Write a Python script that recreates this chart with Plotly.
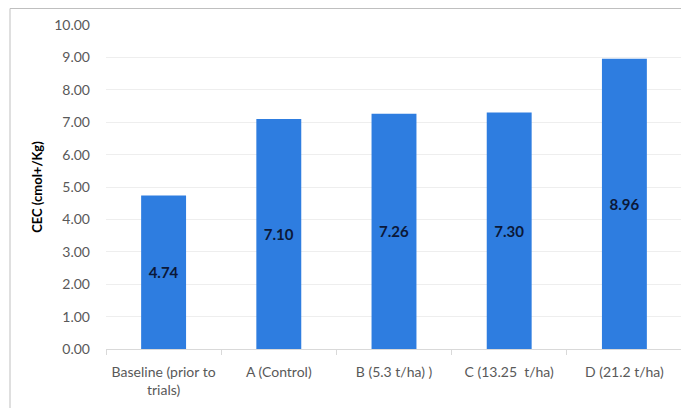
import plotly.graph_objects as go

categories = ["Baseline (prior to<br>trials)", "A (Control)", "B (5.3 t/ha) )", "C (13.25  t/ha)", "D (21.2 t/ha)"]
values = [4.74, 7.10, 7.26, 7.30, 8.96]
labels = ["4.74", "7.10", "7.26", "7.30", "8.96"]
y_ticks = [0, 1, 2, 3, 4, 5, 6, 7, 8, 9, 10]
y_title = "CEC (cmol+/Kg)"

W, H = 689, 408
ml, mr, mt, mb = 98, 15, 17, 67

font_family = "Lato, Roboto, Arial, sans-serif"

fig = go.Figure(go.Bar(
    x=categories, y=values, text=labels,
    textposition="inside", insidetextanchor="middle",
    textfont=dict(family=font_family, size=15, color="#0b1838", weight="bold"),
    marker=dict(color="#2E7DE0", line=dict(width=0)),
    width=0.39,
    cliponaxis=False,
))

fig.update_layout(
    width=W, height=H,
    margin=dict(l=ml, r=mr, t=mt, b=mb, autoexpand=False),
    paper_bgcolor="white", plot_bgcolor="white",
    showlegend=False,
    font=dict(family=font_family, size=14, color="#595959"),
    xaxis=dict(
        type="category",
        automargin=False,
        tickangle=0,
        showgrid=False,
        showline=True, linecolor="#d9d9d9", linewidth=1,
        ticks="outside", tickson="boundaries", ticklen=5, tickcolor="#d9d9d9",
        tickfont=dict(size=14, color="#595959"),
        ticklabelstandoff=10,
    ),
    yaxis=dict(
        automargin=False,
        range=[0, 10],
        tickvals=y_ticks,
        tickformat=".2f",
        showgrid=True, gridcolor="#eeeeee", gridwidth=1,
        zeroline=False,
        showline=False,
        tickfont=dict(size=14, color="#595959"),
        ticklabelstandoff=15,
        title=dict(text=y_title, font=dict(size=13, color="#000000", weight="bold"), standoff=8),
    ),
    shapes=[
        dict(type="line", xref="paper", yref="paper",
             x0=(2 - ml) / (W - ml - mr), x1=(W + 5 - ml) / (W - ml - mr),
             y0=(H - 0.5 - mb) / (H - mt - mb), y1=(H - 0.5 - mb) / (H - mt - mb),
             line=dict(color="#bfbfbf", width=1)),
        dict(type="line", xref="paper", yref="paper",
             x0=(2 - ml) / (W - ml - mr), x1=(2 - ml) / (W - ml - mr),
             y0=(H - 0.5 - mb) / (H - mt - mb), y1=(-5 - mb) / (H - mt - mb),
             line=dict(color="#bfbfbf", width=1)),
    ],
)

fig.write_html("out.html")
